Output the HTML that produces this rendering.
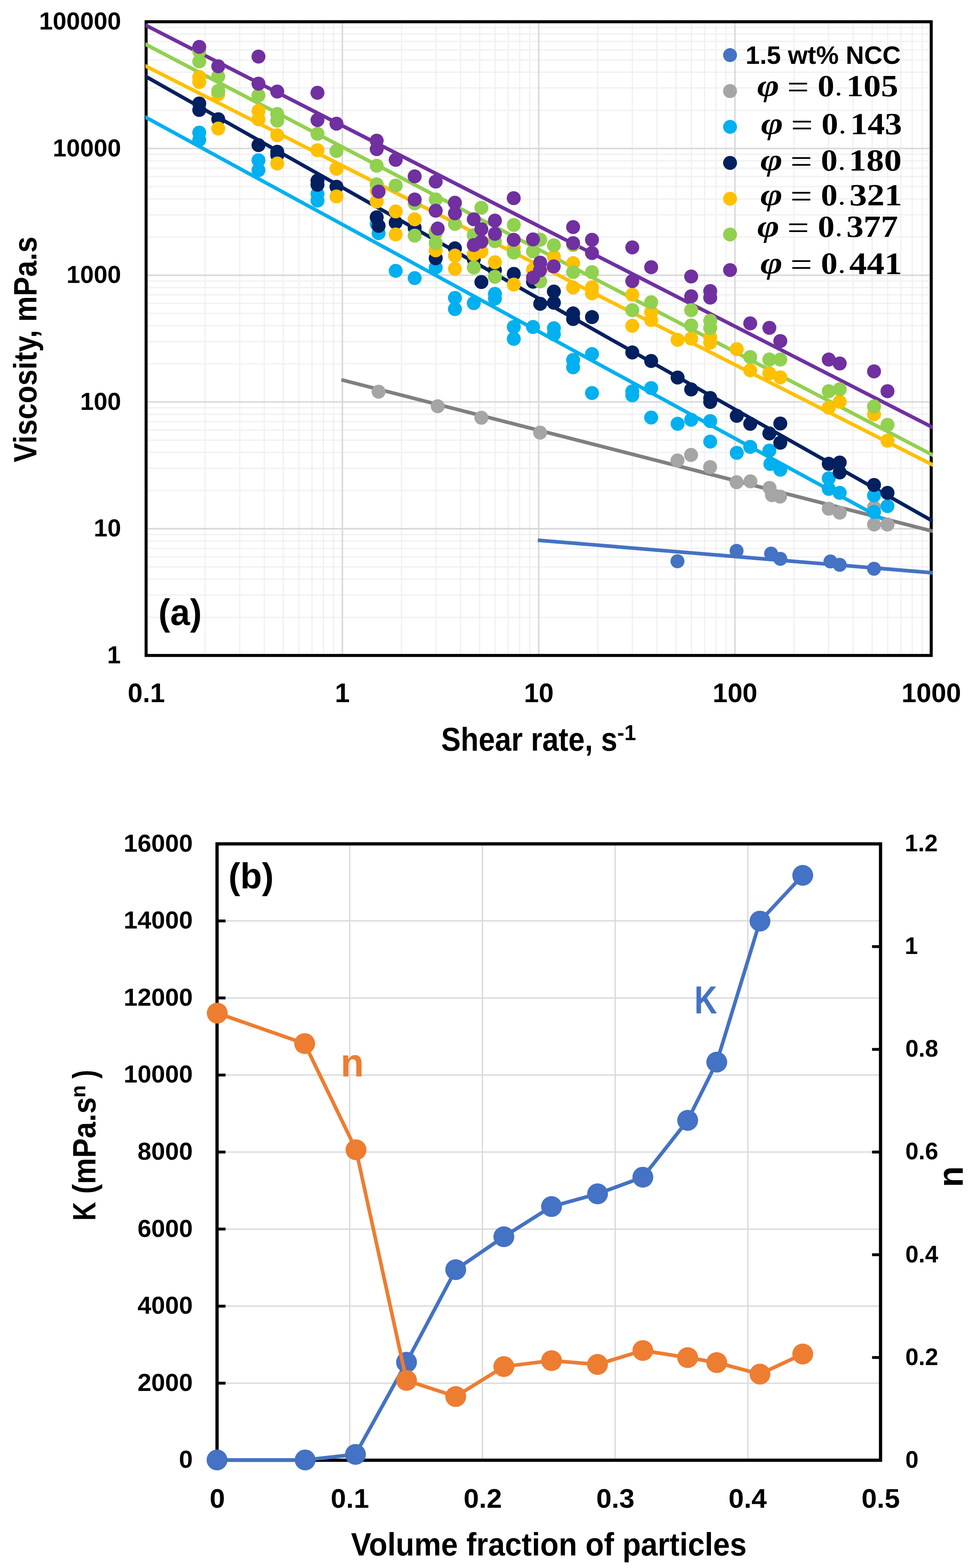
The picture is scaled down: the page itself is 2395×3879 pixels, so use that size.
<!DOCTYPE html><html><head><meta charset="utf-8"><title>Viscosity and power-law parameters</title><style>html,body{margin:0;padding:0;background:#fff;}svg{display:block;}</style></head><body><svg width="2395" height="3879" viewBox="0 0 2395 3879"><rect width="2395" height="3879" fill="#fff"/><path d="M507.7 53.8V1621.5 M593.2 53.8V1621.5 M653.9 53.8V1621.5 M700.9 53.8V1621.5 M739.4 53.8V1621.5 M771.9 53.8V1621.5 M800.1 53.8V1621.5 M824.9 53.8V1621.5 M993.3 53.8V1621.5 M1078.8 53.8V1621.5 M1139.5 53.8V1621.5 M1186.6 53.8V1621.5 M1225.0 53.8V1621.5 M1257.5 53.8V1621.5 M1285.7 53.8V1621.5 M1310.5 53.8V1621.5 M1478.9 53.8V1621.5 M1564.5 53.8V1621.5 M1625.1 53.8V1621.5 M1672.2 53.8V1621.5 M1710.6 53.8V1621.5 M1743.2 53.8V1621.5 M1771.3 53.8V1621.5 M1796.2 53.8V1621.5 M1964.6 53.8V1621.5 M2050.1 53.8V1621.5 M2110.8 53.8V1621.5 M2157.8 53.8V1621.5 M2196.3 53.8V1621.5 M2228.8 53.8V1621.5 M2256.9 53.8V1621.5 M2281.8 53.8V1621.5 M361.5 1527.1H2304.0 M361.5 1471.9H2304.0 M361.5 1432.7H2304.0 M361.5 1402.3H2304.0 M361.5 1377.5H2304.0 M361.5 1356.5H2304.0 M361.5 1338.3H2304.0 M361.5 1322.3H2304.0 M361.5 1213.6H2304.0 M361.5 1158.4H2304.0 M361.5 1119.2H2304.0 M361.5 1088.8H2304.0 M361.5 1064.0H2304.0 M361.5 1043.0H2304.0 M361.5 1024.8H2304.0 M361.5 1008.8H2304.0 M361.5 900.0H2304.0 M361.5 844.8H2304.0 M361.5 805.7H2304.0 M361.5 775.3H2304.0 M361.5 750.4H2304.0 M361.5 729.4H2304.0 M361.5 711.3H2304.0 M361.5 695.2H2304.0 M361.5 586.5H2304.0 M361.5 531.3H2304.0 M361.5 492.1H2304.0 M361.5 461.7H2304.0 M361.5 436.9H2304.0 M361.5 415.9H2304.0 M361.5 397.7H2304.0 M361.5 381.7H2304.0 M361.5 273.0H2304.0 M361.5 217.7H2304.0 M361.5 178.6H2304.0 M361.5 148.2H2304.0 M361.5 123.4H2304.0 M361.5 102.4H2304.0 M361.5 84.2H2304.0 M361.5 68.1H2304.0" stroke="#F1F1F1" stroke-width="3.2" fill="none"/>
<path d="M847.1 53.8V1621.5 M1332.8 53.8V1621.5 M1818.4 53.8V1621.5 M2304.0 53.8V1621.5 M361.5 1308.0H2304.0 M361.5 994.4H2304.0 M361.5 680.9H2304.0 M361.5 367.3H2304.0" stroke="#D9D9D9" stroke-width="3.8" fill="none"/>
<rect x="361.5" y="53.8" width="1942.5" height="1567.7" fill="none" stroke="#000" stroke-width="7.5"/>
<clipPath id="ca"><rect x="359.8" y="49.8" width="1948.3999999999999" height="1575.7"/></clipPath>
<g clip-path="url(#ca)"><line x1="1330.6" y1="1336.5" x2="2310" y2="1417.2" stroke="#4472C4" stroke-width="9"/><line x1="844.5" y1="939.5" x2="2310" y2="1314.7" stroke="#808080" stroke-width="9"/><line x1="358" y1="288.8" x2="2188.5" y2="1286.3" stroke="#00B0F0" stroke-width="9"/><line x1="358" y1="187.7" x2="2310" y2="1290.5" stroke="#002060" stroke-width="9"/><line x1="358" y1="162.2" x2="2310" y2="1151.3" stroke="#FFC000" stroke-width="9"/><line x1="358" y1="108.6" x2="2310" y2="1127" stroke="#92D050" stroke-width="9"/><line x1="358" y1="61.2" x2="2310" y2="1058.5" stroke="#7030A0" stroke-width="9"/><g fill="#4472C4"><circle cx="1676.2" cy="1388.5" r="17.3"/><circle cx="1822.4" cy="1362.7" r="17.3"/><circle cx="1907.8" cy="1369.5" r="17.3"/><circle cx="1930.6" cy="1382.6" r="17.3"/><circle cx="2054.7" cy="1389" r="17.3"/><circle cx="2077.6" cy="1397.2" r="17.3"/><circle cx="2162.5" cy="1407" r="17.3"/></g><g fill="#A5A5A5"><circle cx="936.7" cy="969" r="17.3"/><circle cx="1083" cy="1005" r="17.3"/><circle cx="1191" cy="1033.5" r="17.3"/><circle cx="1336.3" cy="1070.3" r="17.3"/><circle cx="1676.2" cy="1139.2" r="17.3"/><circle cx="1709.7" cy="1125.4" r="17.3"/><circle cx="1757" cy="1155.5" r="17.3"/><circle cx="1822.4" cy="1192.9" r="17.3"/><circle cx="1856.7" cy="1190.8" r="17.3"/><circle cx="1904" cy="1207" r="17.3"/><circle cx="1910" cy="1225" r="17.3"/><circle cx="1930" cy="1228.5" r="17.3"/><circle cx="2050.5" cy="1258.5" r="17.3"/><circle cx="2077.6" cy="1268.3" r="17.3"/><circle cx="2162.5" cy="1255.2" r="17.3"/><circle cx="2162.5" cy="1297.6" r="17.3"/><circle cx="2195.8" cy="1297.6" r="17.3"/></g><g fill="#00B0F0"><circle cx="493" cy="328" r="17.3"/><circle cx="493" cy="346" r="17.3"/><circle cx="639.5" cy="396.6" r="17.3"/><circle cx="639.5" cy="421" r="17.3"/><circle cx="785.5" cy="480" r="17.3"/><circle cx="785.5" cy="496.3" r="17.3"/><circle cx="932" cy="554" r="17.3"/><circle cx="936.7" cy="576.8" r="17.3"/><circle cx="979" cy="670" r="17.3"/><circle cx="1026" cy="688" r="17.3"/><circle cx="1078" cy="639" r="17.3"/><circle cx="1078" cy="661.8" r="17.3"/><circle cx="1125.6" cy="737" r="17.3"/><circle cx="1125.6" cy="764.7" r="17.3"/><circle cx="1172.2" cy="750" r="17.3"/><circle cx="1224.5" cy="727" r="17.3"/><circle cx="1224.5" cy="738.6" r="17.3"/><circle cx="1271.2" cy="808.9" r="17.3"/><circle cx="1271.2" cy="838.3" r="17.3"/><circle cx="1318.8" cy="808.9" r="17.3"/><circle cx="1370.4" cy="812" r="17.3"/><circle cx="1370.4" cy="826.9" r="17.3"/><circle cx="1418" cy="890.6" r="17.3"/><circle cx="1418" cy="908.6" r="17.3"/><circle cx="1464.7" cy="875.9" r="17.3"/><circle cx="1464.7" cy="972.3" r="17.3"/><circle cx="1564.4" cy="968.3" r="17.3"/><circle cx="1564.4" cy="978" r="17.3"/><circle cx="1611.1" cy="960.1" r="17.3"/><circle cx="1611.1" cy="1033" r="17.3"/><circle cx="1676.5" cy="1048.4" r="17.3"/><circle cx="1710.1" cy="1038.6" r="17.3"/><circle cx="1757.2" cy="1041.8" r="17.3"/><circle cx="1757.2" cy="1092.5" r="17.3"/><circle cx="1822.9" cy="1120.3" r="17.3"/><circle cx="1856.2" cy="1105.6" r="17.3"/><circle cx="1903.5" cy="1114.8" r="17.3"/><circle cx="1906" cy="1147.8" r="17.3"/><circle cx="1930.6" cy="1162" r="17.3"/><circle cx="2050.5" cy="1183.3" r="17.3"/><circle cx="2050.5" cy="1209.5" r="17.3"/><circle cx="2077.6" cy="1219.3" r="17.3"/><circle cx="2162.5" cy="1225.8" r="17.3"/><circle cx="2162.5" cy="1266.6" r="17.3"/><circle cx="2195.8" cy="1251.9" r="17.3"/></g><g fill="#002060"><circle cx="493" cy="256" r="17.3"/><circle cx="493" cy="272" r="17.3"/><circle cx="540" cy="295" r="17.3"/><circle cx="639.5" cy="359" r="17.3"/><circle cx="686" cy="375.5" r="17.3"/><circle cx="686" cy="384" r="17.3"/><circle cx="785.5" cy="447" r="17.3"/><circle cx="785.5" cy="457" r="17.3"/><circle cx="832.5" cy="462" r="17.3"/><circle cx="932" cy="537.6" r="17.3"/><circle cx="936.7" cy="558.8" r="17.3"/><circle cx="979" cy="550.6" r="17.3"/><circle cx="1026" cy="563.7" r="17.3"/><circle cx="1078" cy="638.9" r="17.3"/><circle cx="1125.6" cy="614.4" r="17.3"/><circle cx="1172.2" cy="642" r="17.3"/><circle cx="1191" cy="697.8" r="17.3"/><circle cx="1224.5" cy="668.4" r="17.3"/><circle cx="1271.2" cy="677.6" r="17.3"/><circle cx="1318.8" cy="697" r="17.3"/><circle cx="1336.6" cy="751.6" r="17.3"/><circle cx="1370.4" cy="721.2" r="17.3"/><circle cx="1370.4" cy="749" r="17.3"/><circle cx="1418" cy="775.4" r="17.3"/><circle cx="1418" cy="789.3" r="17.3"/><circle cx="1464.7" cy="784.4" r="17.3"/><circle cx="1564.4" cy="871.9" r="17.3"/><circle cx="1611.1" cy="893.1" r="17.3"/><circle cx="1676.5" cy="934" r="17.3"/><circle cx="1710.1" cy="963.4" r="17.3"/><circle cx="1757.2" cy="984.6" r="17.3"/><circle cx="1757.2" cy="994.4" r="17.3"/><circle cx="1822.9" cy="1028.7" r="17.3"/><circle cx="1856.2" cy="1048.4" r="17.3"/><circle cx="1903.5" cy="1072.3" r="17.3"/><circle cx="1930.6" cy="1047.8" r="17.3"/><circle cx="1930.6" cy="1095.2" r="17.3"/><circle cx="2050.5" cy="1147.4" r="17.3"/><circle cx="2077.6" cy="1144.2" r="17.3"/><circle cx="2077.6" cy="1168.7" r="17.3"/><circle cx="2162.5" cy="1199.7" r="17.3"/><circle cx="2195.8" cy="1219.3" r="17.3"/></g><g fill="#FFC000"><circle cx="493" cy="190.5" r="17.3"/><circle cx="493" cy="203" r="17.3"/><circle cx="540" cy="233" r="17.3"/><circle cx="540" cy="318" r="17.3"/><circle cx="639.5" cy="274.5" r="17.3"/><circle cx="639.5" cy="295" r="17.3"/><circle cx="686" cy="334.5" r="17.3"/><circle cx="686" cy="404.5" r="17.3"/><circle cx="785.5" cy="371.5" r="17.3"/><circle cx="832.5" cy="417.5" r="17.3"/><circle cx="832.5" cy="486" r="17.3"/><circle cx="932" cy="472" r="17.3"/><circle cx="932" cy="498.4" r="17.3"/><circle cx="979" cy="523" r="17.3"/><circle cx="979" cy="580" r="17.3"/><circle cx="1026" cy="542.5" r="17.3"/><circle cx="1078" cy="573.5" r="17.3"/><circle cx="1078" cy="619.3" r="17.3"/><circle cx="1125.6" cy="632.4" r="17.3"/><circle cx="1125.6" cy="665" r="17.3"/><circle cx="1172.2" cy="629" r="17.3"/><circle cx="1191" cy="622.6" r="17.3"/><circle cx="1224.5" cy="648.8" r="17.3"/><circle cx="1271.2" cy="612.8" r="17.3"/><circle cx="1271.2" cy="704" r="17.3"/><circle cx="1318.8" cy="667" r="17.3"/><circle cx="1370.4" cy="635.2" r="17.3"/><circle cx="1418" cy="651" r="17.3"/><circle cx="1418" cy="711.3" r="17.3"/><circle cx="1464.7" cy="710.8" r="17.3"/><circle cx="1464.7" cy="725.6" r="17.3"/><circle cx="1564.4" cy="729" r="17.3"/><circle cx="1564.4" cy="805.9" r="17.3"/><circle cx="1611.1" cy="772.2" r="17.3"/><circle cx="1611.1" cy="791.8" r="17.3"/><circle cx="1676.5" cy="840.8" r="17.3"/><circle cx="1710.1" cy="837.6" r="17.3"/><circle cx="1757.2" cy="834.3" r="17.3"/><circle cx="1757.2" cy="847.4" r="17.3"/><circle cx="1822.9" cy="863.7" r="17.3"/><circle cx="1856.2" cy="916" r="17.3"/><circle cx="1903.5" cy="923.7" r="17.3"/><circle cx="1930.6" cy="933.5" r="17.3"/><circle cx="2050.5" cy="1008.6" r="17.3"/><circle cx="2077.6" cy="994" r="17.3"/><circle cx="2162.5" cy="1025" r="17.3"/><circle cx="2195.8" cy="1090.3" r="17.3"/></g><g fill="#92D050"><circle cx="493" cy="127" r="17.3"/><circle cx="493" cy="152" r="17.3"/><circle cx="540" cy="189" r="17.3"/><circle cx="540" cy="225" r="17.3"/><circle cx="639.5" cy="236" r="17.3"/><circle cx="686" cy="282" r="17.3"/><circle cx="686" cy="298.5" r="17.3"/><circle cx="785.5" cy="331" r="17.3"/><circle cx="832.5" cy="373.5" r="17.3"/><circle cx="932" cy="410" r="17.3"/><circle cx="932" cy="456" r="17.3"/><circle cx="979" cy="459" r="17.3"/><circle cx="1026" cy="503" r="17.3"/><circle cx="1026" cy="583" r="17.3"/><circle cx="1078" cy="493.5" r="17.3"/><circle cx="1078" cy="576.8" r="17.3"/><circle cx="1078" cy="601.3" r="17.3"/><circle cx="1125.6" cy="554" r="17.3"/><circle cx="1191" cy="514" r="17.3"/><circle cx="1172.2" cy="581.8" r="17.3"/><circle cx="1172.2" cy="661.8" r="17.3"/><circle cx="1224.5" cy="596.5" r="17.3"/><circle cx="1224.5" cy="684.7" r="17.3"/><circle cx="1271.2" cy="556.5" r="17.3"/><circle cx="1271.2" cy="624.7" r="17.3"/><circle cx="1336.6" cy="592.9" r="17.3"/><circle cx="1318.8" cy="622" r="17.3"/><circle cx="1336.6" cy="696" r="17.3"/><circle cx="1370.4" cy="606.8" r="17.3"/><circle cx="1418" cy="606" r="17.3"/><circle cx="1418" cy="673" r="17.3"/><circle cx="1464.7" cy="673.3" r="17.3"/><circle cx="1564.4" cy="767.3" r="17.3"/><circle cx="1611.1" cy="747.7" r="17.3"/><circle cx="1710.1" cy="767.3" r="17.3"/><circle cx="1710.1" cy="805" r="17.3"/><circle cx="1757.2" cy="793.5" r="17.3"/><circle cx="1757.2" cy="811.4" r="17.3"/><circle cx="1856.2" cy="883.3" r="17.3"/><circle cx="1903.5" cy="889.4" r="17.3"/><circle cx="1930.6" cy="889.4" r="17.3"/><circle cx="2050.5" cy="967.8" r="17.3"/><circle cx="2077.6" cy="962.9" r="17.3"/><circle cx="2162.5" cy="1005.4" r="17.3"/><circle cx="2195.8" cy="1051" r="17.3"/></g><g fill="#7030A0"><circle cx="493" cy="116" r="17.3"/><circle cx="540" cy="164" r="17.3"/><circle cx="639.5" cy="140" r="17.3"/><circle cx="639.5" cy="207" r="17.3"/><circle cx="686" cy="226.5" r="17.3"/><circle cx="785.5" cy="229.5" r="17.3"/><circle cx="785.5" cy="297" r="17.3"/><circle cx="832.5" cy="306" r="17.3"/><circle cx="932" cy="348" r="17.3"/><circle cx="932" cy="369" r="17.3"/><circle cx="936.7" cy="474" r="17.3"/><circle cx="979" cy="395.4" r="17.3"/><circle cx="1026" cy="436.3" r="17.3"/><circle cx="1026" cy="493.5" r="17.3"/><circle cx="1078" cy="449.3" r="17.3"/><circle cx="1078" cy="521.2" r="17.3"/><circle cx="1083" cy="565.4" r="17.3"/><circle cx="1125.6" cy="501.6" r="17.3"/><circle cx="1125.6" cy="527.8" r="17.3"/><circle cx="1172.2" cy="542.5" r="17.3"/><circle cx="1172.2" cy="606.3" r="17.3"/><circle cx="1191" cy="567" r="17.3"/><circle cx="1191" cy="598" r="17.3"/><circle cx="1224.5" cy="545.8" r="17.3"/><circle cx="1224.5" cy="578.5" r="17.3"/><circle cx="1271" cy="490.3" r="17.3"/><circle cx="1271" cy="593.2" r="17.3"/><circle cx="1318.8" cy="592.2" r="17.3"/><circle cx="1318.8" cy="686.8" r="17.3"/><circle cx="1336.6" cy="649.8" r="17.3"/><circle cx="1336" cy="669" r="17.3"/><circle cx="1370" cy="659" r="17.3"/><circle cx="1418" cy="561.8" r="17.3"/><circle cx="1418" cy="601.5" r="17.3"/><circle cx="1464.7" cy="593.2" r="17.3"/><circle cx="1464.7" cy="625.9" r="17.3"/><circle cx="1564.4" cy="612.1" r="17.3"/><circle cx="1564.4" cy="695.4" r="17.3"/><circle cx="1611.1" cy="661.1" r="17.3"/><circle cx="1710.1" cy="684" r="17.3"/><circle cx="1710.1" cy="733" r="17.3"/><circle cx="1757.2" cy="720" r="17.3"/><circle cx="1757.2" cy="736.3" r="17.3"/><circle cx="1856.2" cy="800" r="17.3"/><circle cx="1903.5" cy="811" r="17.3"/><circle cx="1930.6" cy="843.7" r="17.3"/><circle cx="2050.5" cy="889.4" r="17.3"/><circle cx="2077.6" cy="899.2" r="17.3"/><circle cx="2162.5" cy="918.8" r="17.3"/><circle cx="2195.8" cy="967.8" r="17.3"/></g></g>
<circle cx="1806.3" cy="136.3" r="17.2" fill="#4472C4"/>
<circle cx="1806.3" cy="225.3" r="17.2" fill="#A5A5A5"/>
<circle cx="1806.3" cy="313.8" r="17.2" fill="#00B0F0"/>
<circle cx="1806.3" cy="403" r="17.2" fill="#002060"/>
<circle cx="1806.3" cy="491.6" r="17.2" fill="#FFC000"/>
<circle cx="1806.3" cy="580.2" r="17.2" fill="#92D050"/>
<circle cx="1806.3" cy="668.2" r="17.2" fill="#7030A0"/>
<text x="1844.7" y="158.2" font-family="'Liberation Sans', Arial, sans-serif" font-size="62.15" font-weight="bold" fill="#000" textLength="384.0" lengthAdjust="spacingAndGlyphs">1.5 wt% NCC</text>
<text x="1873.2" y="236.6" font-family="'Liberation Serif', 'Times New Roman', serif" font-size="76.75" font-weight="bold" font-style="italic" fill="#000" textLength="54.8" lengthAdjust="spacingAndGlyphs">φ</text>
<text x="1947.4" y="244.2" font-family="'Liberation Serif', 'Times New Roman', serif" font-size="84.0" font-weight="normal" fill="#000" textLength="54.1" lengthAdjust="spacingAndGlyphs">=</text>
<text x="2023.1" y="238.0" font-family="'Liberation Serif', 'Times New Roman', serif" font-size="75.44" font-weight="bold" fill="#000" textLength="41.3" lengthAdjust="spacingAndGlyphs">0</text>
<text x="2067.8" y="237.1" font-family="'Liberation Serif', 'Times New Roman', serif" font-size="49.38" font-weight="bold" fill="#000" textLength="13.9" lengthAdjust="spacingAndGlyphs">.</text>
<text x="2093.7" y="238.0" font-family="'Liberation Serif', 'Times New Roman', serif" font-size="75.44" font-weight="bold" fill="#000" textLength="128.8" lengthAdjust="spacingAndGlyphs">105</text>
<text x="1882.7" y="330.8" font-family="'Liberation Serif', 'Times New Roman', serif" font-size="76.75" font-weight="bold" font-style="italic" fill="#000" textLength="54.8" lengthAdjust="spacingAndGlyphs">φ</text>
<text x="1956.9" y="338.4" font-family="'Liberation Serif', 'Times New Roman', serif" font-size="84.0" font-weight="normal" fill="#000" textLength="54.1" lengthAdjust="spacingAndGlyphs">=</text>
<text x="2032.6" y="332.2" font-family="'Liberation Serif', 'Times New Roman', serif" font-size="75.44" font-weight="bold" fill="#000" textLength="41.3" lengthAdjust="spacingAndGlyphs">0</text>
<text x="2077.3" y="331.3" font-family="'Liberation Serif', 'Times New Roman', serif" font-size="49.38" font-weight="bold" fill="#000" textLength="13.9" lengthAdjust="spacingAndGlyphs">.</text>
<text x="2103.7" y="332.2" font-family="'Liberation Serif', 'Times New Roman', serif" font-size="75.89" font-weight="bold" fill="#000" textLength="128.1" lengthAdjust="spacingAndGlyphs">143</text>
<text x="1881.2" y="420.8" font-family="'Liberation Serif', 'Times New Roman', serif" font-size="76.75" font-weight="bold" font-style="italic" fill="#000" textLength="54.8" lengthAdjust="spacingAndGlyphs">φ</text>
<text x="1955.4" y="428.4" font-family="'Liberation Serif', 'Times New Roman', serif" font-size="84.0" font-weight="normal" fill="#000" textLength="54.1" lengthAdjust="spacingAndGlyphs">=</text>
<text x="2031.1" y="422.2" font-family="'Liberation Serif', 'Times New Roman', serif" font-size="75.44" font-weight="bold" fill="#000" textLength="41.3" lengthAdjust="spacingAndGlyphs">0</text>
<text x="2075.8" y="421.3" font-family="'Liberation Serif', 'Times New Roman', serif" font-size="49.38" font-weight="bold" fill="#000" textLength="13.9" lengthAdjust="spacingAndGlyphs">.</text>
<text x="2100.0" y="422.2" font-family="'Liberation Serif', 'Times New Roman', serif" font-size="75.44" font-weight="bold" fill="#000" textLength="130.7" lengthAdjust="spacingAndGlyphs">180</text>
<text x="1881.2" y="506.8" font-family="'Liberation Serif', 'Times New Roman', serif" font-size="76.75" font-weight="bold" font-style="italic" fill="#000" textLength="54.8" lengthAdjust="spacingAndGlyphs">φ</text>
<text x="1955.4" y="514.4" font-family="'Liberation Serif', 'Times New Roman', serif" font-size="84.0" font-weight="normal" fill="#000" textLength="54.1" lengthAdjust="spacingAndGlyphs">=</text>
<text x="2031.1" y="508.2" font-family="'Liberation Serif', 'Times New Roman', serif" font-size="75.44" font-weight="bold" fill="#000" textLength="41.3" lengthAdjust="spacingAndGlyphs">0</text>
<text x="2075.8" y="507.3" font-family="'Liberation Serif', 'Times New Roman', serif" font-size="49.38" font-weight="bold" fill="#000" textLength="13.9" lengthAdjust="spacingAndGlyphs">.</text>
<text x="2101.4" y="508.2" font-family="'Liberation Serif', 'Times New Roman', serif" font-size="75.89" font-weight="bold" fill="#000" textLength="130.5" lengthAdjust="spacingAndGlyphs">321</text>
<text x="1873.6" y="584.8" font-family="'Liberation Serif', 'Times New Roman', serif" font-size="76.75" font-weight="bold" font-style="italic" fill="#000" textLength="54.8" lengthAdjust="spacingAndGlyphs">φ</text>
<text x="1947.8" y="592.4" font-family="'Liberation Serif', 'Times New Roman', serif" font-size="84.0" font-weight="normal" fill="#000" textLength="54.1" lengthAdjust="spacingAndGlyphs">=</text>
<text x="2023.5" y="586.2" font-family="'Liberation Serif', 'Times New Roman', serif" font-size="75.44" font-weight="bold" fill="#000" textLength="41.3" lengthAdjust="spacingAndGlyphs">0</text>
<text x="2068.2" y="585.3" font-family="'Liberation Serif', 'Times New Roman', serif" font-size="49.38" font-weight="bold" fill="#000" textLength="13.9" lengthAdjust="spacingAndGlyphs">.</text>
<text x="2093.9" y="586.2" font-family="'Liberation Serif', 'Times New Roman', serif" font-size="75.89" font-weight="bold" fill="#000" textLength="128.0" lengthAdjust="spacingAndGlyphs">377</text>
<text x="1881.2" y="675.6" font-family="'Liberation Serif', 'Times New Roman', serif" font-size="76.75" font-weight="bold" font-style="italic" fill="#000" textLength="54.8" lengthAdjust="spacingAndGlyphs">φ</text>
<text x="1955.4" y="683.2" font-family="'Liberation Serif', 'Times New Roman', serif" font-size="84.0" font-weight="normal" fill="#000" textLength="54.1" lengthAdjust="spacingAndGlyphs">=</text>
<text x="2031.1" y="677.0" font-family="'Liberation Serif', 'Times New Roman', serif" font-size="75.44" font-weight="bold" fill="#000" textLength="41.3" lengthAdjust="spacingAndGlyphs">0</text>
<text x="2075.8" y="676.1" font-family="'Liberation Serif', 'Times New Roman', serif" font-size="49.38" font-weight="bold" fill="#000" textLength="13.9" lengthAdjust="spacingAndGlyphs">.</text>
<text x="2101.3" y="677.8" font-family="'Liberation Serif', 'Times New Roman', serif" font-size="77.27" font-weight="bold" fill="#000" textLength="130.6" lengthAdjust="spacingAndGlyphs">441</text>
<text x="392.1" y="1545.6" font-family="'Liberation Sans', Arial, sans-serif" font-size="90.13" font-weight="bold" fill="#000" textLength="107.1" lengthAdjust="spacingAndGlyphs">(a)</text>
<text x="265.1" y="1640.8" font-family="'Liberation Sans', Arial, sans-serif" font-size="61.37" font-weight="bold" fill="#000" textLength="33.8" lengthAdjust="spacingAndGlyphs">1</text>
<text x="232.0" y="1327.3" font-family="'Liberation Sans', Arial, sans-serif" font-size="61.37" font-weight="bold" fill="#000" textLength="67.7" lengthAdjust="spacingAndGlyphs">10</text>
<text x="198.2" y="1013.7" font-family="'Liberation Sans', Arial, sans-serif" font-size="61.37" font-weight="bold" fill="#000" textLength="101.5" lengthAdjust="spacingAndGlyphs">100</text>
<text x="164.4" y="700.2" font-family="'Liberation Sans', Arial, sans-serif" font-size="61.37" font-weight="bold" fill="#000" textLength="135.3" lengthAdjust="spacingAndGlyphs">1000</text>
<text x="130.5" y="386.6" font-family="'Liberation Sans', Arial, sans-serif" font-size="61.37" font-weight="bold" fill="#000" textLength="169.1" lengthAdjust="spacingAndGlyphs">10000</text>
<text x="96.7" y="73.1" font-family="'Liberation Sans', Arial, sans-serif" font-size="61.37" font-weight="bold" fill="#000" textLength="203.0" lengthAdjust="spacingAndGlyphs">100000</text>
<text x="316.0" y="1737.3" font-family="'Liberation Sans', Arial, sans-serif" font-size="66.38" font-weight="bold" fill="#000" textLength="92.2" lengthAdjust="spacingAndGlyphs">0.1</text>
<text x="828.6" y="1737.3" font-family="'Liberation Sans', Arial, sans-serif" font-size="66.38" font-weight="bold" fill="#000" textLength="36.9" lengthAdjust="spacingAndGlyphs">1</text>
<text x="1296.2" y="1737.3" font-family="'Liberation Sans', Arial, sans-serif" font-size="66.38" font-weight="bold" fill="#000" textLength="73.8" lengthAdjust="spacingAndGlyphs">10</text>
<text x="1763.3" y="1737.3" font-family="'Liberation Sans', Arial, sans-serif" font-size="66.38" font-weight="bold" fill="#000" textLength="110.6" lengthAdjust="spacingAndGlyphs">100</text>
<text x="2230.5" y="1737.3" font-family="'Liberation Sans', Arial, sans-serif" font-size="66.38" font-weight="bold" fill="#000" textLength="147.5" lengthAdjust="spacingAndGlyphs">1000</text>
<g transform="translate(89.5 0) rotate(-90)"><text x="-1143.7" y="0.0" font-family="'Liberation Sans', Arial, sans-serif" font-size="79.22" font-weight="bold" fill="#000" textLength="558.4" lengthAdjust="spacingAndGlyphs">Viscosity, mPa.s</text></g>
<text x="1091.4" y="1856.5" font-family="'Liberation Sans', Arial, sans-serif" font-size="81.4" font-weight="bold" fill="#000" textLength="436.0" lengthAdjust="spacingAndGlyphs">Shear rate, s</text>
<text x="1527.3" y="1831.2" font-family="'Liberation Sans', Arial, sans-serif" font-size="53.78" font-weight="bold" fill="#000" textLength="46.4" lengthAdjust="spacingAndGlyphs">-1</text>
<path d="M537.0 3421.8H2178.6 M537.0 3231.2H2178.6 M537.0 3040.6H2178.6 M537.0 2850.0H2178.6 M537.0 2659.4H2178.6 M537.0 2468.8H2178.6 M537.0 2278.2H2178.6 M865.3 2087.6V3612.4 M1193.6 2087.6V3612.4 M1522.0 2087.6V3612.4 M1850.3 2087.6V3612.4" stroke="#D9D9D9" stroke-width="3.2" fill="none"/>
<path d="M537.0 3421.8H558.0 M537.0 3231.2H558.0 M537.0 3040.6H558.0 M537.0 2850.0H558.0 M537.0 2659.4H558.0 M537.0 2468.8H558.0 M537.0 2278.2H558.0 M2178.6 3358.3H2157.6 M2178.6 3104.1H2157.6 M2178.6 2850.0H2157.6 M2178.6 2595.9H2157.6 M2178.6 2341.7H2157.6" stroke="#000" stroke-width="7" fill="none"/>
<rect x="537.0" y="2087.6" width="1641.6" height="1524.8000000000002" fill="none" stroke="#000" stroke-width="8"/>
<polyline points="537,3611.7 755.0,3611.7 879.5,3598 1005.8,3370.1 1127.5,3141 1246.6,3059.5 1364.6,2984.8 1478.4,2953.4 1590.5,2912.2 1701.4,2771.6 1773.4,2627.5 1880.3,2278.7 1986.1,2165.5" fill="none" stroke="#4472C4" stroke-width="9" stroke-linejoin="round"/>
<g fill="#4472C4"><circle cx="537" cy="3611.7" r="25.8"/><circle cx="755.0" cy="3611.7" r="25.8"/><circle cx="879.5" cy="3598" r="25.8"/><circle cx="1005.8" cy="3370.1" r="25.8"/><circle cx="1127.5" cy="3141" r="25.8"/><circle cx="1246.6" cy="3059.5" r="25.8"/><circle cx="1364.6" cy="2984.8" r="25.8"/><circle cx="1478.4" cy="2953.4" r="25.8"/><circle cx="1590.5" cy="2912.2" r="25.8"/><circle cx="1701.4" cy="2771.6" r="25.8"/><circle cx="1773.4" cy="2627.5" r="25.8"/><circle cx="1880.3" cy="2278.7" r="25.8"/><circle cx="1986.1" cy="2165.5" r="25.8"/></g>
<polyline points="537.5,2506.3 753.8,2581.7 880.8,2844.4 1005.8,3415 1127.5,3454.8 1246.6,3380.7 1364.6,3366 1478.4,3375.4 1590.5,3341 1701.4,3358.5 1773.4,3370.8 1880.3,3399.3 1986.1,3349.6" fill="none" stroke="#ED7D31" stroke-width="9" stroke-linejoin="round"/>
<g fill="#ED7D31"><circle cx="537.5" cy="2506.3" r="25.8"/><circle cx="753.8" cy="2581.7" r="25.8"/><circle cx="880.8" cy="2844.4" r="25.8"/><circle cx="1005.8" cy="3415" r="25.8"/><circle cx="1127.5" cy="3454.8" r="25.8"/><circle cx="1246.6" cy="3380.7" r="25.8"/><circle cx="1364.6" cy="3366" r="25.8"/><circle cx="1478.4" cy="3375.4" r="25.8"/><circle cx="1590.5" cy="3341" r="25.8"/><circle cx="1701.4" cy="3358.5" r="25.8"/><circle cx="1773.4" cy="3370.8" r="25.8"/><circle cx="1880.3" cy="3399.3" r="25.8"/><circle cx="1986.1" cy="3349.6" r="25.8"/></g>
<text x="565.3" y="2197.7" font-family="'Liberation Sans', Arial, sans-serif" font-size="89.38" font-weight="bold" fill="#000" textLength="111.9" lengthAdjust="spacingAndGlyphs">(b)</text>
<text x="1717.9" y="2507.4" font-family="'Liberation Sans', Arial, sans-serif" font-size="97.24" font-weight="bold" fill="#4472C4" textLength="56.3" lengthAdjust="spacingAndGlyphs">K</text>
<text x="842.8" y="2663.0" font-family="'Liberation Sans', Arial, sans-serif" font-size="98.33" font-weight="bold" fill="#ED7D31" textLength="57.6" lengthAdjust="spacingAndGlyphs">n</text>
<text x="442.7" y="3631.3" font-family="'Liberation Sans', Arial, sans-serif" font-size="60.45" font-weight="bold" fill="#000" textLength="34.2" lengthAdjust="spacingAndGlyphs">0</text>
<text x="340.2" y="3440.7" font-family="'Liberation Sans', Arial, sans-serif" font-size="60.45" font-weight="bold" fill="#000" textLength="136.7" lengthAdjust="spacingAndGlyphs">2000</text>
<text x="340.2" y="3250.1" font-family="'Liberation Sans', Arial, sans-serif" font-size="60.45" font-weight="bold" fill="#000" textLength="136.7" lengthAdjust="spacingAndGlyphs">4000</text>
<text x="340.2" y="3059.5" font-family="'Liberation Sans', Arial, sans-serif" font-size="60.45" font-weight="bold" fill="#000" textLength="136.7" lengthAdjust="spacingAndGlyphs">6000</text>
<text x="340.2" y="2868.9" font-family="'Liberation Sans', Arial, sans-serif" font-size="60.45" font-weight="bold" fill="#000" textLength="136.7" lengthAdjust="spacingAndGlyphs">8000</text>
<text x="306.0" y="2678.3" font-family="'Liberation Sans', Arial, sans-serif" font-size="60.45" font-weight="bold" fill="#000" textLength="170.9" lengthAdjust="spacingAndGlyphs">10000</text>
<text x="306.0" y="2487.7" font-family="'Liberation Sans', Arial, sans-serif" font-size="60.45" font-weight="bold" fill="#000" textLength="170.9" lengthAdjust="spacingAndGlyphs">12000</text>
<text x="306.0" y="2297.1" font-family="'Liberation Sans', Arial, sans-serif" font-size="60.45" font-weight="bold" fill="#000" textLength="170.9" lengthAdjust="spacingAndGlyphs">14000</text>
<text x="306.0" y="2106.5" font-family="'Liberation Sans', Arial, sans-serif" font-size="60.45" font-weight="bold" fill="#000" textLength="170.9" lengthAdjust="spacingAndGlyphs">16000</text>
<text x="2239.9" y="3630.8" font-family="'Liberation Sans', Arial, sans-serif" font-size="59.6" font-weight="bold" fill="#000" textLength="32.6" lengthAdjust="spacingAndGlyphs">0</text>
<text x="2239.9" y="3376.7" font-family="'Liberation Sans', Arial, sans-serif" font-size="59.6" font-weight="bold" fill="#000" textLength="81.5" lengthAdjust="spacingAndGlyphs">0.2</text>
<text x="2239.9" y="3122.5" font-family="'Liberation Sans', Arial, sans-serif" font-size="59.6" font-weight="bold" fill="#000" textLength="81.5" lengthAdjust="spacingAndGlyphs">0.4</text>
<text x="2239.9" y="2868.4" font-family="'Liberation Sans', Arial, sans-serif" font-size="59.6" font-weight="bold" fill="#000" textLength="81.5" lengthAdjust="spacingAndGlyphs">0.6</text>
<text x="2239.9" y="2614.3" font-family="'Liberation Sans', Arial, sans-serif" font-size="59.6" font-weight="bold" fill="#000" textLength="81.5" lengthAdjust="spacingAndGlyphs">0.8</text>
<text x="2238.6" y="2360.1" font-family="'Liberation Sans', Arial, sans-serif" font-size="59.6" font-weight="bold" fill="#000" textLength="32.6" lengthAdjust="spacingAndGlyphs">1</text>
<text x="2238.6" y="2106.0" font-family="'Liberation Sans', Arial, sans-serif" font-size="59.6" font-weight="bold" fill="#000" textLength="81.5" lengthAdjust="spacingAndGlyphs">1.2</text>
<text x="518.8" y="3730.3" font-family="'Liberation Sans', Arial, sans-serif" font-size="67.37" font-weight="bold" fill="#000" textLength="37.9" lengthAdjust="spacingAndGlyphs">0</text>
<text x="818.3" y="3730.3" font-family="'Liberation Sans', Arial, sans-serif" font-size="67.37" font-weight="bold" fill="#000" textLength="94.8" lengthAdjust="spacingAndGlyphs">0.1</text>
<text x="1147.1" y="3730.3" font-family="'Liberation Sans', Arial, sans-serif" font-size="67.37" font-weight="bold" fill="#000" textLength="94.8" lengthAdjust="spacingAndGlyphs">0.2</text>
<text x="1475.2" y="3730.3" font-family="'Liberation Sans', Arial, sans-serif" font-size="67.37" font-weight="bold" fill="#000" textLength="94.8" lengthAdjust="spacingAndGlyphs">0.3</text>
<text x="1802.5" y="3730.3" font-family="'Liberation Sans', Arial, sans-serif" font-size="67.37" font-weight="bold" fill="#000" textLength="94.8" lengthAdjust="spacingAndGlyphs">0.4</text>
<text x="2131.6" y="3730.3" font-family="'Liberation Sans', Arial, sans-serif" font-size="67.37" font-weight="bold" fill="#000" textLength="94.8" lengthAdjust="spacingAndGlyphs">0.5</text>
<g transform="translate(236.2 0) rotate(-90)"><text x="-3019.7" y="0.0" font-family="'Liberation Sans', Arial, sans-serif" font-size="79.65" font-weight="bold" fill="#000" textLength="46.2" lengthAdjust="spacingAndGlyphs">K</text><text x="-2953.5" y="0.0" font-family="'Liberation Sans', Arial, sans-serif" font-size="79.65" font-weight="bold" fill="#000" textLength="238.9" lengthAdjust="spacingAndGlyphs">(mPa.s</text><text x="-2715.6" y="-25.4" font-family="'Liberation Sans', Arial, sans-serif" font-size="51.49" font-weight="bold" fill="#000" textLength="30.8" lengthAdjust="spacingAndGlyphs">n</text><text x="-2668.3" y="0.0" font-family="'Liberation Sans', Arial, sans-serif" font-size="79.65" font-weight="bold" fill="#000" textLength="21.6" lengthAdjust="spacingAndGlyphs">)</text></g>
<g transform="translate(2381.7 0) rotate(-90)"><text x="-2937.1" y="0.0" font-family="'Liberation Sans', Arial, sans-serif" font-size="86.62" font-weight="bold" fill="#000" textLength="52.0" lengthAdjust="spacingAndGlyphs">n</text></g>
<text x="868.5" y="3848.2" font-family="'Liberation Sans', Arial, sans-serif" font-size="79.94" font-weight="bold" fill="#000" textLength="978.9" lengthAdjust="spacingAndGlyphs">Volume fraction of particles</text></svg></body></html>
